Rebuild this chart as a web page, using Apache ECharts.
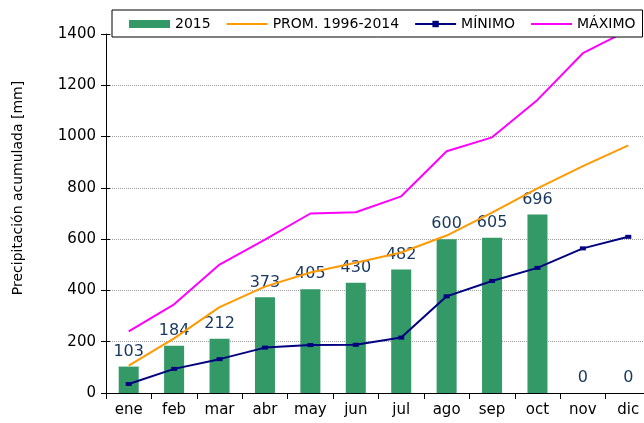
<!DOCTYPE html>
<html>
<head>
<meta charset="utf-8">
<script src="https://cdn.jsdelivr.net/npm/echarts@6/dist/echarts.min.js"></script>
<style>
html,body{margin:0;padding:0;background:#fff;overflow:hidden;}
#c{width:660px;height:423px;}
</style>
</head>
<body>
<div id="c"></div>
<script>
var months = ['ene','feb','mar','abr','may','jun','jul','ago','sep','oct','nov','dic'];
var y2015 = [103,184,212,373,405,430,482,600,605,696,0,0];
var prom = [107,213,335,415,470,508,548,614,703,798,885,966];
var minimo = [35,94,132,177,187,188,216,377,437,488,564,609];
var maximo = [240,346,501,598,700,705,767,943,997,1143,1325,1415];
var yTicks = [0,200,400,600,800,1000,1200,1400];
var names = ['2015','PROM. 1996-2014','MÍNIMO','MÁXIMO'];
var yTitle = 'Precipitación acumulada [mm]';

var FONT = 'DejaVu Sans';
var chart = echarts.init(document.getElementById('c'), null, {renderer:'canvas'});
chart.setOption({
  animation:false,
  backgroundColor:'#fff',
  textStyle:{fontFamily:FONT},
  grid:{left:106, top:34, width:545, height:359, containLabel:false},
  legend:{
    left:112, top:10,
    backgroundColor:'#fff', borderColor:'#000', borderWidth:1,
    padding:[7,7,6,17],
    itemWidth:41, itemHeight:8, itemGap:15,
    textStyle:{fontFamily:FONT, fontSize:14, color:'#000'},
    data:[
      {name:names[0], icon:'rect'},
      {name:names[1], itemStyle:{opacity:0}},
      {name:names[2]},
      {name:names[3], itemStyle:{opacity:0}}
    ]
  },
  graphic:[{
    type:'text',
    x:18, y:188, rotation:Math.PI/2,
    style:{text:yTitle, fill:'#000', font:'14px "DejaVu Sans"', align:'center', verticalAlign:'middle'}
  }],
  xAxis:{
    type:'category', data:months, boundaryGap:true,
    axisLine:{lineStyle:{color:'#000', width:1}},
    axisTick:{show:true, alignWithLabel:false, length:6, lineStyle:{color:'#000'}},
    axisLabel:{fontFamily:FONT, fontSize:15, color:'#000', margin:10, interval:0},
    splitLine:{show:false}
  },
  yAxis:[{
    type:'value', min:0, max:1400, interval:200,
    axisLine:{show:true, lineStyle:{color:'#000', width:1}},
    axisTick:{show:true, length:5, lineStyle:{color:'#000'}},
    axisLabel:{fontFamily:FONT, fontSize:15, color:'#000', margin:10,
      formatter:function(v){ return yTicks.indexOf(v)>=0 ? String(v) : ''; }},
    splitLine:{show:true, lineStyle:{color:'#a0a0a0', type:[1,1], width:1}}
  },{
    type:'value', min:0, max:1400, interval:200, position:'left',
    axisLine:{show:false},
    axisTick:{show:true, inside:true, length:4, lineStyle:{color:'#000'}},
    axisLabel:{show:false},
    splitLine:{show:false}
  }],
  series:[
    {
      name:names[0], type:'bar', data:y2015, barWidth:20,
      itemStyle:{color:'#339966'},
      label:{show:true, position:'top', distance:7, color:'#17375E', fontFamily:FONT, fontSize:16},
      z:2
    },
    {
      name:names[1], type:'line', data:prom, showSymbol:false, symbol:'none',
      lineStyle:{color:'#FF9900', width:2}, itemStyle:{color:'#FF9900'}, z:3
    },
    {
      name:names[2], type:'line', data:minimo, symbol:'rect', symbolSize:[6,4], showSymbol:true,
      lineStyle:{color:'#000080', width:2}, itemStyle:{color:'#000080'}, z:4
    },
    {
      name:names[3], type:'line', data:maximo, symbol:'none', clip:true,
      lineStyle:{color:'#FF00FF', width:2}, itemStyle:{color:'#FF00FF'}, z:3
    }
  ]
});
</script>
</body>
</html>
